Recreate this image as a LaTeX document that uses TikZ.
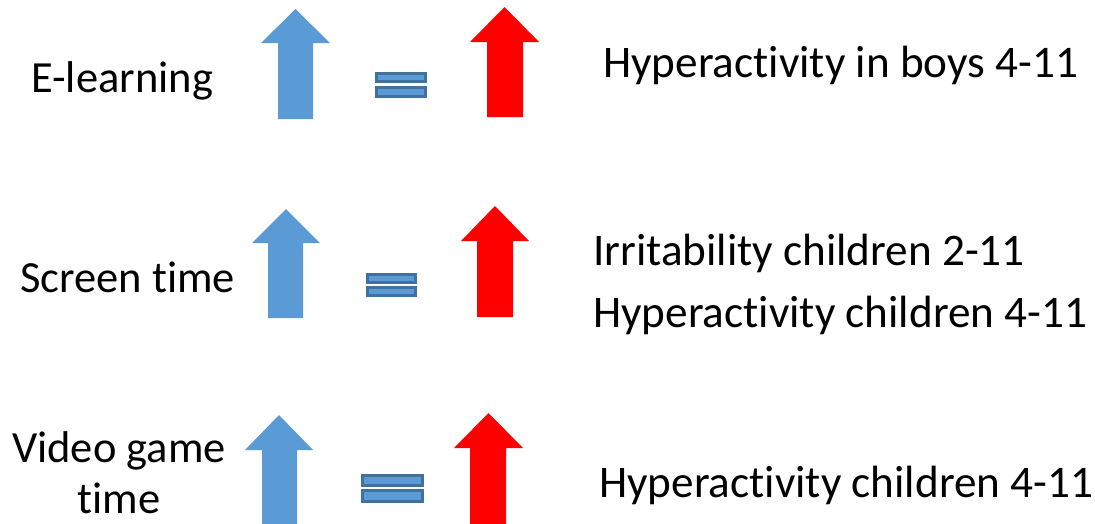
\documentclass[tikz,border=0pt]{standalone}
\usepackage{fontspec}
\setmainfont[RawFeature=-liga]{Carlito}
\definecolor{upblue}{HTML}{5B9BD5}
\definecolor{eqedge}{HTML}{41719C}
\definecolor{upred}{HTML}{FF0000}
\tikzset{
  lefttext/.style={inner sep=0pt, font=\fontsize{44.5}{51}\selectfont},
  righttext/.style={inner sep=0pt, font=\fontsize{45.2}{52}\selectfont, anchor=base west},
  bluearrow/.style={fill=upblue, draw=none},
  redarrow/.style={fill=upred, draw=none},
  eqbar/.style={fill=upblue, draw=eqedge, line width=3pt}
}
% upward block arrow: style, head left, head right, shaft left, shaft right, tip y, head base y, bottom y
\newcommand{\blockup}[8]{%
  \path[#1] (#4,#8) -- (#4,#7) -- (#2,#7) -- ({(#2+#3)/2},#6) -- (#3,#7)
    -- (#5,#7) -- (#5,#8) -- cycle;}
% equals sign made of two bars: left, right, bar1 top, bar1 bottom, bar2 top, bar2 bottom
\newcommand{\eqsign}[6]{%
  \path[eqbar] (#1+1.5,#3+1.5) rectangle (#2-1.5,#4-1.5);
  \path[eqbar] (#1+1.5,#5+1.5) rectangle (#2-1.5,#6-1.5);}
\begin{document}
\begin{tikzpicture}[x=1pt, y=-1pt]
  \useasboundingbox (0,0) rectangle (1095,523);

  % row 1: e-learning
  \node[lefttext, anchor=base west] (elearn) at (31,92) {E-learning};
  \blockup{bluearrow}{261}{330}{278}{313}{9}{43}{119}
  \eqsign{375}{427}{72}{83}{86}{98}
  \blockup{redarrow}{470}{539}{487}{523}{7}{42}{117}
  \node[righttext] (hypboys) at (603,77) {Hyperactivity in boys 4-11};

  % row 2: screen time
  \node[lefttext, anchor=base west] (screen) at (20,292) {Screen time};
  \blockup{bluearrow}{252}{320}{268}{303}{209}{243}{318}
  \eqsign{366}{417}{273}{284}{286}{297}
  \blockup{redarrow}{461}{529}{477}{513}{206}{241}{317}
  \node[righttext] (irrit) at (593,265) {Irritability children 2-11};
  \node[righttext] (hypchild) at (593,327) {Hyperactivity children 4-11};

  % row 3: video game time
  \node[lefttext, anchor=base, align=center] (video) at (119,513) {Video game\\time};
  \blockup{bluearrow}{245}{313}{262}{297}{415}{450}{524}
  \eqsign{361}{424}{474}{487}{489}{503}
  \blockup{redarrow}{454}{523}{470}{506}{413}{448}{524}
  \node[righttext] (hypvideo) at (599,497) {Hyperactivity children 4-11};
\end{tikzpicture}
\end{document}
